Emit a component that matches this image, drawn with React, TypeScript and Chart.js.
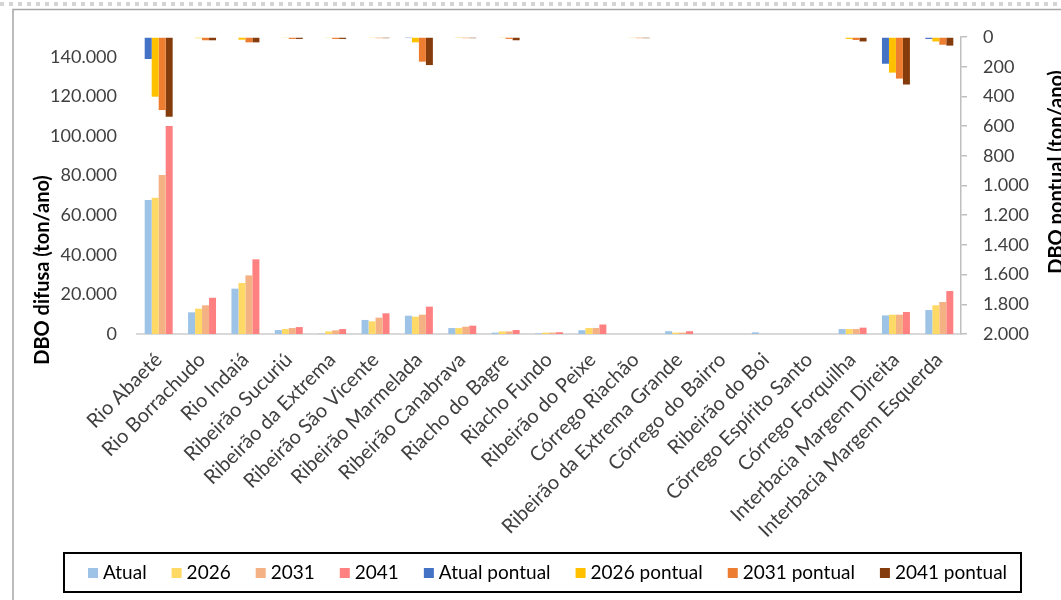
import React, { useEffect, useRef } from 'react';
import { Chart, registerables } from 'chart.js';

Chart.register(...registerables);

const categories = [
  'Rio Abaeté', 'Rio Borrachudo', 'Rio Indaiá', 'Ribeirão Sucuriú', 'Ribeirão da Extrema',
  'Ribeirão São Vicente', 'Ribeirão Marmelada', 'Ribeirão Canabrava', 'Riacho do Bagre',
  'Riacho Fundo', 'Ribeirão do Peixe', 'Córrego Riachão', 'Ribeirão da Extrema Grande',
  'Cõrrego do Bairro', 'Ribeirão do Boi', 'Cõrrego Espírito Santo', 'Córrego Forquilha',
  'Interbacia Margem Direita', 'Interbacia Margem Esquerda',
];

// DBO difusa (ton/ano) - left axis
const difusaAtual = [67700, 10950, 22900, 2000, 200, 7100, 9250, 3000, 700, 300, 1900, 0, 1400, 0, 850, 0, 2500, 9400, 12100];
const difusa2026 = [68800, 12800, 25750, 2500, 1300, 6400, 8750, 3000, 1300, 700, 3000, 0, 700, 0, 0, 0, 2500, 9750, 14500];
const difusa2031 = [80300, 14500, 29600, 3000, 1850, 8250, 9750, 3700, 1300, 700, 3000, 0, 700, 0, 0, 0, 2500, 9750, 16150];
const difusa2041 = [105000, 18300, 37700, 3500, 2500, 10450, 13800, 4200, 2000, 900, 4800, 0, 1400, 0, 0, 0, 3200, 11100, 21700];

// DBO pontual (ton/ano) - right axis (reversed)
const pontualAtual = [148, 0, 0, 0, 0, 0, 7, 0, 0, 0, 0, 0, 0, 0, 0, 0, 0, 180, 13];
const pontual2026 = [402, 8, 18, 4, 4, 4, 36, 3, 4, 0, 0, 4, 0, 0, 0, 0, 13, 240, 30];
const pontual2031 = [492, 22, 36, 13, 13, 8, 166, 8, 13, 0, 0, 8, 0, 0, 0, 0, 20, 280, 52];
const pontual2041 = [537, 22, 36, 13, 13, 8, 189, 8, 22, 0, 0, 8, 0, 0, 0, 0, 30, 320, 58];

const leftTicks = [0, 20000, 40000, 60000, 80000, 100000, 120000, 140000];
const rightTicks = [0, 200, 400, 600, 800, 1000, 1200, 1400, 1600, 1800, 2000];

const seriesNames = ['Atual', '2026', '2031', '2041', 'Atual pontual', '2026 pontual', '2031 pontual', '2041 pontual'];
const seriesColors = ['#9DC3E6', '#FFD966', '#F4B183', '#FF8080', '#4472C4', '#FFC000', '#ED7D31', '#843C0C'];

const leftTitle = 'DBO difusa (ton/ano)';
const rightTitle = 'DBO pontual (ton/ano)';

const fmt = (v: number | string) => String(v).replace(/\B(?=(\d{3})+(?!\d))/g, '.');

const FONT = 'Lato, "Open Sans", sans-serif';
const TEXT = '#404040';

const decor = {
  id: 'decor',
  beforeDraw(chart: any) {
    const { ctx } = chart;
    ctx.save();
    ctx.fillStyle = '#ffffff';
    ctx.fillRect(0, 0, chart.width, chart.height);
    ctx.strokeStyle = '#d4d4d4';
    ctx.lineWidth = 4;
    ctx.setLineDash([4, 5]);
    ctx.beginPath();
    ctx.moveTo(0, 4);
    ctx.lineTo(chart.width, 4);
    ctx.stroke();
    ctx.setLineDash([]);
    ctx.strokeStyle = '#a6a6a6';
    ctx.lineWidth = 1.5;
    ctx.beginPath();
    ctx.moveTo(13, chart.height + 5);
    ctx.lineTo(13, 9.5);
    ctx.lineTo(chart.width + 5, 9.5);
    ctx.stroke();
    ctx.restore();
  },
  afterDraw(chart: any) {
    const { ctx } = chart;
    ctx.save();
    ctx.fillStyle = '#000000';
    ctx.font = `bold 20px ${FONT}`;
    ctx.textAlign = 'center';
    ctx.textBaseline = 'alphabetic';
    ctx.save();
    ctx.translate(49, 270);
    ctx.rotate(-Math.PI / 2);
    ctx.fillText(leftTitle, 0, 0);
    ctx.restore();
    ctx.save();
    ctx.translate(1063, 172);
    ctx.rotate(-Math.PI / 2);
    ctx.fillText(rightTitle, 0, 0);
    ctx.restore();

    ctx.strokeStyle = '#000000';
    ctx.lineWidth = 2;
    ctx.strokeRect(64, 553, 957, 39);
    ctx.font = `19px ${FONT}`;
    ctx.textAlign = 'left';
    ctx.textBaseline = 'middle';
    let x = 88;
    const cy = 573;
    seriesNames.forEach((name, i) => {
      ctx.fillStyle = seriesColors[i];
      ctx.fillRect(x, cy - 5, 10, 10);
      ctx.fillStyle = '#000000';
      ctx.fillText(name, x + 15, cy);
      x += 15 + ctx.measureText(name).width + 25;
    });
    ctx.restore();
  },
};

export default function App() {
  const ref = useRef<HTMLCanvasElement>(null);
  useEffect(() => {
    const difusa = [difusaAtual, difusa2026, difusa2031, difusa2041];
    const pontual = [pontualAtual, pontual2026, pontual2031, pontual2041];
    const datasets: any[] = [];
    difusa.forEach((d, i) => {
      datasets.push({
        label: seriesNames[i], data: d, backgroundColor: seriesColors[i],
        yAxisID: 'y', stack: 's' + i, borderWidth: 0,
      });
    });
    pontual.forEach((d, i) => {
      datasets.push({
        label: seriesNames[i + 4], data: d, backgroundColor: seriesColors[i + 4],
        yAxisID: 'y2', stack: 's' + i, borderWidth: 0,
      });
    });
    const tickFont = { family: FONT, size: 18 };
    const chart = new Chart(ref.current!, {
      type: 'bar',
      data: { labels: categories, datasets },
      options: {
        responsive: false,
        animation: false,
        layout: { padding: { top: 37, left: 0, right: 0, bottom: 0 } },
        plugins: { legend: { display: false }, tooltip: { enabled: false } },
        datasets: { bar: { categoryPercentage: 0.645, barPercentage: 1 } } as any,
        scales: {
          x: {
            stacked: true,
            grid: { display: false, drawTicks: false },
            border: { display: true, color: '#d9d9d9', width: 2 },
            ticks: {
              autoSkip: false, maxRotation: 45, minRotation: 45, padding: 14,
              font: { family: FONT, size: 20 }, color: TEXT,
            },
            afterFit: (s: any) => { s.height = 266; },
          } as any,
          y: {
            position: 'left', stacked: false, min: 0, max: 150000,
            afterBuildTicks: (s: any) => { s.ticks = leftTicks.map((v) => ({ value: v })); },
            ticks: { padding: 20, font: tickFont, color: TEXT, callback: (v: any) => fmt(v) },
            grid: { display: false, drawTicks: false },
            border: { display: false },
            afterFit: (s: any) => { s.width = 137; },
          } as any,
          y2: {
            position: 'right', stacked: false, reverse: true, min: 0, max: 2000,
            afterBuildTicks: (s: any) => { s.ticks = rightTicks.map((v) => ({ value: v })); },
            ticks: { padding: 16, font: tickFont, color: TEXT, callback: (v: any) => fmt(v) },
            grid: { display: true, drawOnChartArea: false, drawTicks: true, tickLength: 6, color: '#bfbfbf', lineWidth: 1.5 },
            border: { display: true, color: '#bfbfbf', width: 1.5 },
            afterFit: (s: any) => { s.width = 100; },
          } as any,
        },
      },
      plugins: [decor],
    });
    return () => chart.destroy();
  }, []);
  return (
    <div style={{ position: 'absolute', left: 0, top: 0, width: 1061, height: 600 }}>
      <canvas ref={ref} width={1061} height={600} style={{ display: 'block' }} />
    </div>
  );
}
